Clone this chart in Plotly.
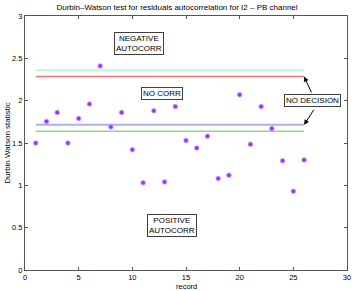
import plotly.graph_objects as go

records = list(range(1, 27))
dw_values = [1.50, 1.755, 1.86, 1.50, 1.79, 1.96, 2.41, 1.69, 1.86, 1.42,
             1.03, 1.88, 1.04, 1.93, 1.53, 1.44, 1.58, 1.08, 1.12, 2.07,
             1.485, 1.93, 1.67, 1.29, 0.93, 1.30]
dL = 1.64
dU = 1.715
line_x = [1, 26]

FONT = "Liberation Sans, Arial, sans-serif"

fig = go.Figure()

fig.add_trace(go.Scatter(x=line_x, y=[4 - dL, 4 - dL], mode="lines",
                         line=dict(color="#b8f5d0", width=1.5), showlegend=False))
fig.add_trace(go.Scatter(x=line_x, y=[4 - dU, 4 - dU], mode="lines",
                         line=dict(color="#f07070", width=1.5), showlegend=False))
fig.add_trace(go.Scatter(x=line_x, y=[dU, dU], mode="lines",
                         line=dict(color="#a8b0ff", width=2), showlegend=False))
fig.add_trace(go.Scatter(x=line_x, y=[dL, dL], mode="lines",
                         line=dict(color="#90d890", width=1.5), showlegend=False))

fig.add_trace(go.Scatter(x=records, y=dw_values, mode="markers",
                         marker=dict(symbol="circle", size=4.5, color="#a030ff",
                                     line=dict(color="#c890ff", width=0.8)),
                         showlegend=False))

box = dict(showarrow=False, bordercolor="#404040", borderwidth=1, bgcolor="white",
           font=dict(family=FONT, size=8, color="black"), borderpad=1)

fig.add_annotation(x=10.6, y=2.68, text="NEGATIVE<br>AUTOCORR", **box)
fig.add_annotation(x=12.8, y=2.09, text="NO CORR", **box)
fig.add_annotation(x=13.7, y=0.53, text="POSITIVE<br>AUTOCORR", **box)

fig.add_annotation(x=26, y=4 - dU, ax=26.75, ay=2.08, axref="x", ayref="y",
                   text="", showarrow=True, arrowhead=2, arrowsize=1, arrowwidth=1,
                   arrowcolor="black")
fig.add_annotation(x=26, y=dU, ax=27.0, ay=1.91, axref="x", ayref="y",
                   text="", showarrow=True, arrowhead=2, arrowsize=1, arrowwidth=1,
                   arrowcolor="black")
fig.add_annotation(x=26.75, y=2.0, text="NO DECISION", **box)

# x-axis title as an annotation just below the tick labels
fig.add_annotation(x=0.5, y=0, xref="paper", yref="paper", text="record",
                   showarrow=False, yanchor="top", yshift=-10,
                   font=dict(family=FONT, size=7.5, color="black"))

axis_common = dict(showgrid=False, zeroline=False, showline=True, linecolor="#555555",
                   linewidth=1, mirror="ticks", ticks="inside", ticklen=3,
                   tickcolor="#555555", automargin=False,
                   tickfont=dict(family=FONT, size=7.5, color="black"))

fig.update_xaxes(range=[0, 30], tickvals=[0, 5, 10, 15, 20, 25, 30],
                 ticklabelstandoff=0, **axis_common)
fig.update_yaxes(range=[0, 3], tickvals=[0, 0.5, 1, 1.5, 2, 2.5, 3],
                 ticktext=["0", "0.5", "1", "1.5", "2", "2.5", "3"],
                 title=dict(text="Durbin Watson statistic",
                            font=dict(family=FONT, size=8, color="black"), standoff=0),
                 **axis_common)

fig.update_layout(
    width=354, height=291,
    margin=dict(l=25, r=7, t=16, b=21, autoexpand=False),
    paper_bgcolor="white", plot_bgcolor="white",
    title=dict(text="Durbin\u2013Watson test for residuals autocorrelation for I2 \u2013 PB channel",
               font=dict(family=FONT, size=8, color="black"), x=0.5, xanchor="center",
               y=0.985, yanchor="top"),
)

fig.write_html("out.html", config={"displayModeBar": False},
               post_script="document.body.style.margin='0';document.body.style.padding='0';")
